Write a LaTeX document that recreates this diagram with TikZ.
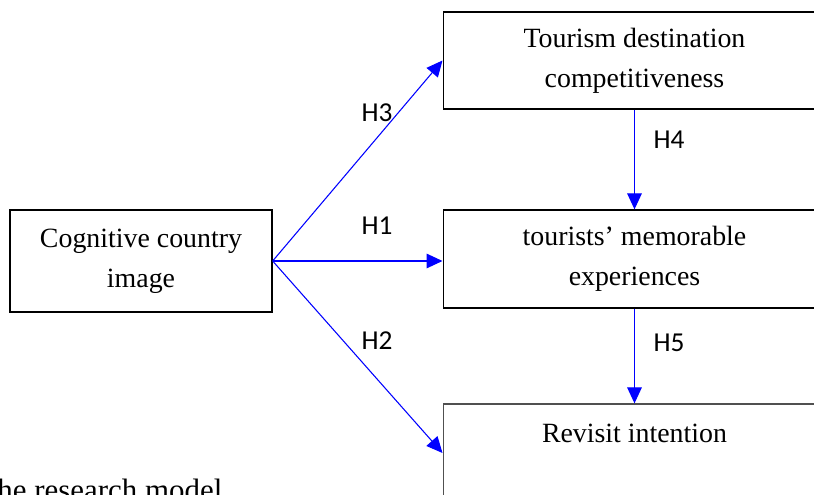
\documentclass[tikz,border=0pt]{standalone}
\usepackage{fontspec}
\setmainfont{Liberation Serif}
\newfontfamily\labelfont{Carlito}
\usetikzlibrary{arrows.meta, positioning}
\definecolor{cblue}{HTML}{0000FF}
\definecolor{cgrey}{HTML}{505050}
\tikzset{
  every picture/.style={line width=0.75pt},
  box/.style={draw=#1, line width=1pt, align=center, inner sep=0pt,
    font=\fontsize{20.9}{30}\selectfont, minimum width=287pt, minimum height=73.5pt},
  box/.default=black,
  hyp/.style={-{Triangle[length=12pt, width=11pt]}, draw=cblue, line width=0.8pt},
  hlabel/.style={font=\labelfont\fontsize{20.5}{24}\selectfont, inner sep=0pt},
  caption/.style={font=\fontsize{23.2}{27}\selectfont, inner sep=0pt},
}
\begin{document}
\begin{tikzpicture}[x=0.75pt, y=-0.75pt]
  \useasboundingbox (0,0) rectangle (814,495);
  % constructs
  \node[box, minimum width=196.5pt, minimum height=76.5pt] (cci) at (141,261) {Cognitive country\\image};
  \node[box, minimum height=72.75pt] (tdc) at (634.5,60.5) {Tourism destination\\competitiveness};
  \node[box] (tme) at (634.5,259) {tourists' memorable\\experiences};
  \node[box=cgrey] (rvi) at (634.5,453) {Revisit intention\\\mbox{}};
  % hypotheses
  \draw[hyp] (cci.east) -- (tdc.west);
  \draw[hyp] (cci.east) -- (cci.east -| tme.west);
  \draw[hyp] (cci.east) -- (rvi.west);
  \draw[hyp] (tdc.south) -- (tme.north);
  \draw[hyp] (tme.south) -- (rvi.north);
  \node[hlabel] (h3) at (377,113) {H3};
  \node[hlabel] (h1) at (377,226) {H1};
  \node[hlabel] (h2) at (377,341) {H2};
  \node[hlabel] (h4) at (669,140) {H4};
  \node[hlabel] (h5) at (669,343) {H5};
  \node[caption, anchor=base west] (cap) at (-22,500) {The research model};
\end{tikzpicture}
\end{document}
